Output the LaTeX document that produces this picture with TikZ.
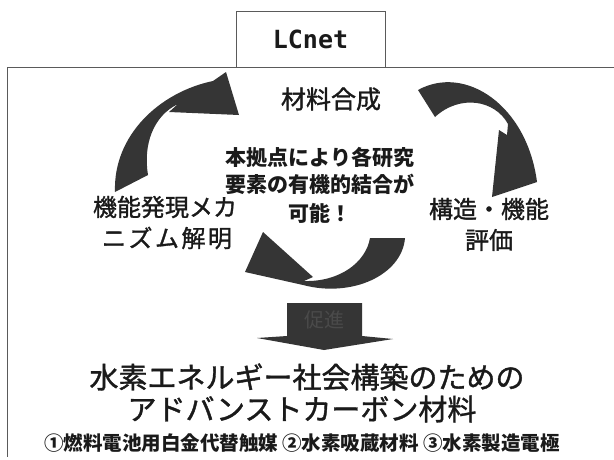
\documentclass[tikz,border=0pt]{standalone}
\usepackage{fontspec}
\setmainfont{Noto Sans CJK JP}
\newfontfamily\semifont{Noto Sans CJK JP}[FakeBold=1.3]
\newfontfamily\monofont{DejaVu Sans Mono}
\definecolor{ink}{HTML}{1A1A1A}
\definecolor{arrowgray}{HTML}{353535}
\definecolor{framegray}{HTML}{5A5A5A}
\definecolor{dimtext}{HTML}{4A4A4A}
\begin{document}
\begin{tikzpicture}[x=1pt,y=-1pt,
  lbl/.style={inner sep=0pt, text=ink, font=\semifont\fontsize{24}{24}\selectfont},
  midlbl/.style={inner sep=0pt, text=ink, font=\bfseries\fontsize{21}{21}\selectfont},
  biglbl/.style={inner sep=0pt, text=ink, font=\semifont\fontsize{29}{29}\selectfont},
  smalllbl/.style={inner sep=0pt, text=ink, font=\bfseries\fontsize{19.5}{19.5}\selectfont},
  arr/.style={fill=arrowgray},
  framestyle/.style={draw=framegray, line width=1pt}]
\useasboundingbox (0,0) rectangle (614,459);
\fill[white] (0,0) rectangle (614,459);
% outer frame
\draw[framestyle] (620,67) -- (7,67) -- (7,457);
% title box
\node[framestyle, fill=white, minimum width=149pt, minimum height=56pt, inner sep=0pt,
      text=ink, font=\monofont\bfseries\fontsize{25}{25}\selectfont] (lcnet) at (310.5,39) {LCnet};
% cycle arrows
\fill[arr] (115,192) .. controls (113,135) and (160,92) .. (213,81) -- (226,72) -- (239,115)
  -- (169,112) -- (178,104) .. controls (153,116) and (143,145) .. (148,175) -- cycle;
\fill[arr] (418,90) .. controls (465,64) and (527,105) .. (537,182) -- (492,197) -- (499,130)
  -- (507,135) -- (508,124) .. controls (495,100) and (460,94) .. (435,117) -- cycle;
\fill[arr] (263,232) -- (313,277) -- (304,281) .. controls (340,282) and (366,262) .. (370,238)
  -- (405,238) .. controls (402,275) and (352,298) .. (303,285) -- (245,272) -- cycle;
% block arrow
\fill[arr] (287,303) -- (362,303) -- (362,336) -- (393,339) -- (324,350) -- (257,338) -- (287,336) -- cycle;
\node[inner sep=0pt, text=dimtext, font=\fontsize{20}{20}\selectfont] (promote) at (324.5,320) {促進};
% labels
\node[lbl, font=\semifont\fontsize{25}{25}\selectfont] (synth) at (331,99) {材料合成};
\node[midlbl] (c1) at (320,157) {本拠点により各研究};
\node[midlbl] (c2) at (320,184) {要素の有機的結合が};
\node[midlbl] (c3) at (320,213) {可能！};
\node[lbl] (l1) at (165,207) {機能発現メカ};
\node[lbl] (l2) at (167,238) {\makebox[130pt]{ニ\hfill ズ\hfill ム\hfill 解\hfill 明}};
\node[lbl] (r1) at (489,209) {構造・機能};
\node[lbl] (r2) at (489,240) {評価};
\node[biglbl] (b1) at (307,377) {水素エネルギー社会構築のための};
\node[biglbl] (b2) at (302,409) {アドバンストカーボン材料};
\node[smalllbl] (b3) at (302,443) {①燃料電池用白金代替触媒 ②水素吸蔵材料 ③水素製造電極};
\end{tikzpicture}
\end{document}
